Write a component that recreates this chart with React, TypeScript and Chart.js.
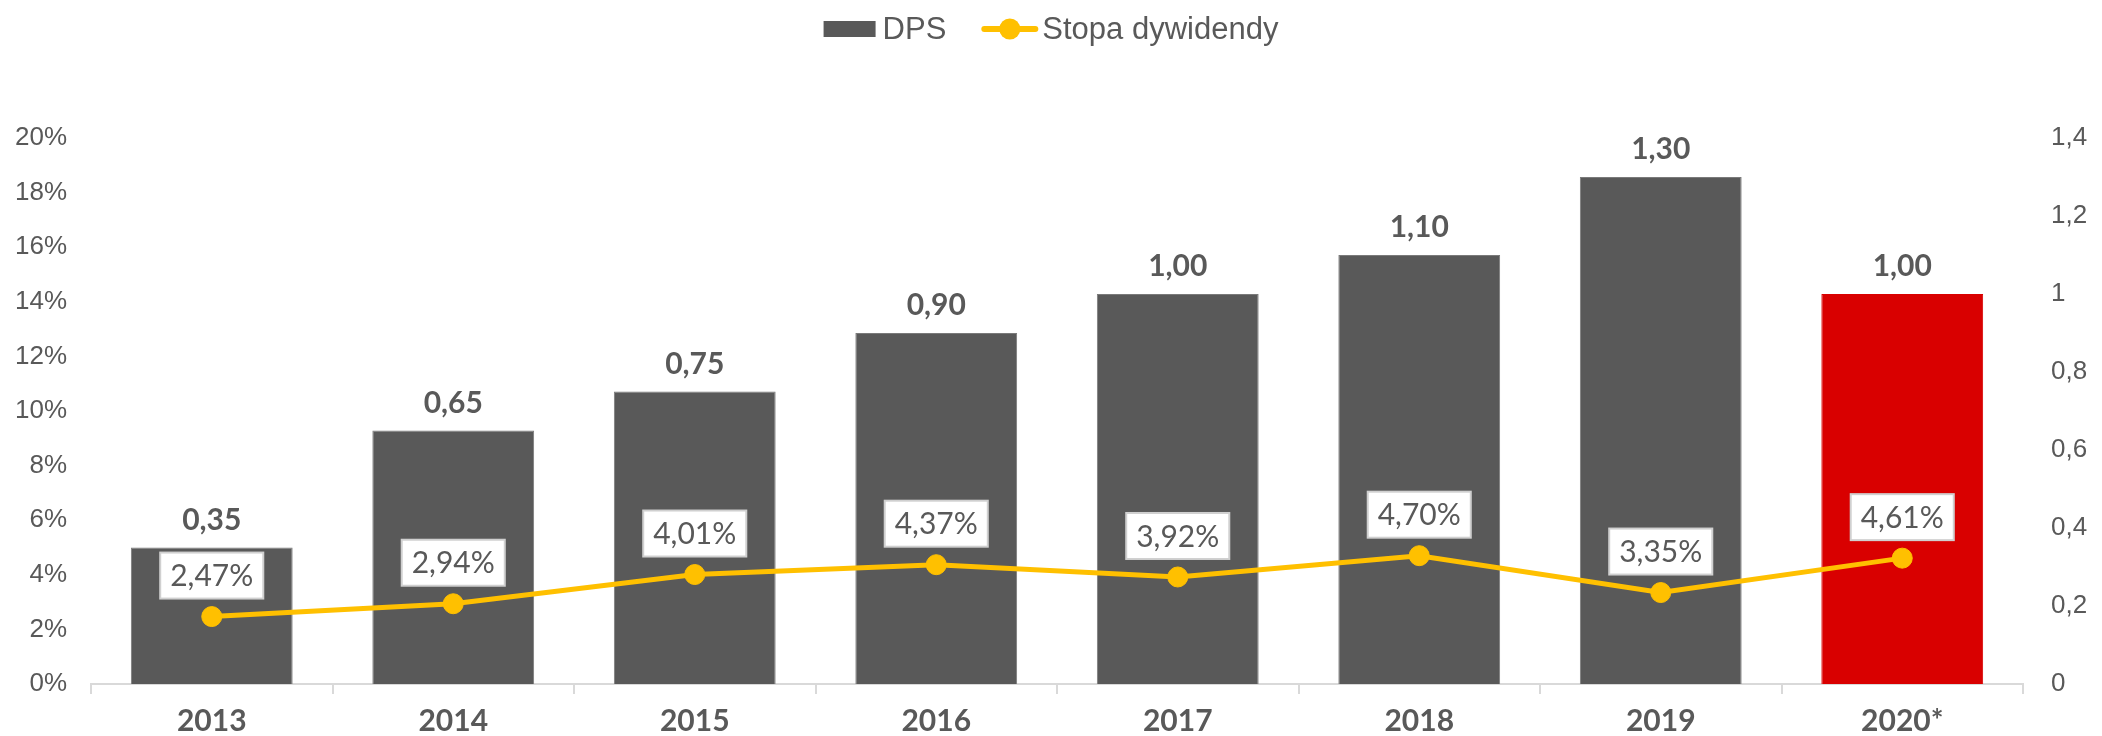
import React, { useEffect, useRef } from "react";
import { Chart, registerables } from "chart.js";

Chart.register(...registerables);

const categories = ["2013", "2014", "2015", "2016", "2017", "2018", "2019", "2020*"];
const dpsValues = [0.35, 0.65, 0.75, 0.9, 1.0, 1.1, 1.3, 1.0];
const yieldValues = [0.0247, 0.0294, 0.0401, 0.0437, 0.0392, 0.047, 0.0335, 0.0461];
const highlightCategory = "2020*";
const leftTicksMax = 0.2;
const rightTicksMax = 1.4;

const GRAY = "#595959";
const RED = "#D90000";
const YELLOW = "#FFC000";
const TEXT = "#595959";

const fmtComma = (v: number, d: number) => v.toFixed(d).replace(".", ",");

const labelsPlugin = {
  id: "customLabels",
  afterDatasetsDraw(chart: any) {
    const ctx = chart.ctx;
    ctx.save();
    const barMeta = chart.getDatasetMeta(1);
    ctx.font = "bold 30px Lato";
    ctx.fillStyle = TEXT;
    ctx.textAlign = "center";
    ctx.textBaseline = "alphabetic";
    barMeta.data.forEach((bar: any, i: number) => {
      ctx.fillText(fmtComma(dpsValues[i], 2), bar.x, bar.y - 18);
    });
    const lineMeta = chart.getDatasetMeta(0);
    ctx.font = "30px Lato";
    ctx.textBaseline = "middle";
    lineMeta.data.forEach((pt: any, i: number) => {
      const txt = fmtComma(yieldValues[i] * 100, 2) + "%";
      const w = ctx.measureText(txt).width + 20;
      const h = 46;
      const cy = pt.y - 41;
      ctx.fillStyle = "#ffffff";
      ctx.fillRect(pt.x - w / 2, cy - h / 2, w, h);
      ctx.strokeStyle = "#d0d0d0";
      ctx.lineWidth = 2;
      ctx.strokeRect(pt.x - w / 2, cy - h / 2, w, h);
      ctx.fillStyle = TEXT;
      ctx.fillText(txt, pt.x, cy + 1);
    });
    ctx.restore();
  },
  afterDraw(chart: any) {
    const ctx = chart.ctx;
    ctx.save();
    ctx.font = "31px 'Liberation Sans', Arial";
    const t1 = chart.data.datasets[1].label;
    const t2 = chart.data.datasets[0].label;
    const w1 = ctx.measureText(t1).width;
    const w2 = ctx.measureText(t2).width;
    const total = 52 + 7 + w1 + 35 + 57 + 4 + w2;
    let x = chart.width / 2 - total / 2;
    const cy = 29;
    ctx.fillStyle = GRAY;
    ctx.fillRect(x, cy - 8, 52, 16);
    x += 59;
    ctx.fillStyle = TEXT;
    ctx.textAlign = "left";
    ctx.textBaseline = "middle";
    ctx.fillText(t1, x, cy + 1);
    x += w1 + 35;
    ctx.strokeStyle = YELLOW;
    ctx.lineWidth = 6;
    ctx.lineCap = "round";
    ctx.beginPath();
    ctx.moveTo(x + 3, cy);
    ctx.lineTo(x + 54, cy);
    ctx.stroke();
    ctx.fillStyle = YELLOW;
    ctx.beginPath();
    ctx.arc(x + 28.5, cy, 10.5, 0, Math.PI * 2);
    ctx.fill();
    x += 61;
    ctx.fillStyle = TEXT;
    ctx.fillText(t2, x, cy + 1);
    ctx.restore();
  },
};

export default function App() {
  const ref = useRef<HTMLCanvasElement | null>(null);
  useEffect(() => {
    if (!ref.current) return;
    const chart = new Chart(ref.current, {
      type: "bar",
      data: {
        labels: categories,
        datasets: [
          {
            type: "line",
            label: "Stopa dywidendy",
            data: yieldValues,
            yAxisID: "y",
            borderColor: YELLOW,
            backgroundColor: YELLOW,
            borderWidth: 5,
            pointRadius: 10,
            pointHoverRadius: 10,
            pointBackgroundColor: YELLOW,
            pointBorderColor: YELLOW,
            pointBorderWidth: 1,
            tension: 0,
            order: 0,
          } as any,
          {
            type: "bar",
            label: "DPS",
            data: dpsValues,
            yAxisID: "y1",
            backgroundColor: (c: any) => (categories[c.dataIndex] === highlightCategory ? RED : GRAY),
            borderColor: (c: any) => (categories[c.dataIndex] === highlightCategory ? RED : "#7a7a7a"),
            borderWidth: 1,
            categoryPercentage: 1,
            barPercentage: 0.67,
            order: 1,
          } as any,
        ],
      },
      options: {
        responsive: false,
        animation: false,
        layout: { padding: { top: 138, left: 0, right: 0, bottom: 0 } },
        plugins: {
          legend: { display: false },
          tooltip: { enabled: false },
        },
        scales: {
          x: {
            grid: {
              display: true,
              offset: true,
              drawOnChartArea: false,
              drawTicks: true,
              tickLength: 10,
              color: "#d9d9d9",
              lineWidth: 2,
            },
            border: { display: true, color: "#d9d9d9", width: 2 },
            ticks: {
              color: TEXT,
              font: { family: "Lato", size: 30, weight: "bold" },
              padding: 9,
              maxRotation: 0,
            },
            afterFit: (s: any) => {
              s.height = 52;
            },
          },
          y: {
            position: "left",
            min: 0,
            max: leftTicksMax,
            grid: { display: false, drawTicks: false },
            border: { display: false },
            ticks: {
              stepSize: 0.02,
              color: TEXT,
              font: { family: "'Liberation Sans', Arial", size: 26 },
              padding: 24,
              callback: (v: any) => Math.round(Number(v) * 100) + "%",
            },
            afterFit: (s: any) => {
              s.width = 91;
            },
          },
          y1: {
            position: "right",
            min: 0,
            max: rightTicksMax,
            grid: { display: false, drawTicks: false },
            border: { display: false },
            ticks: {
              stepSize: 0.2,
              color: TEXT,
              font: { family: "'Liberation Sans', Arial", size: 26 },
              padding: 28,
              callback: (v: any) => String(Math.round(Number(v) * 10) / 10).replace(".", ","),
            },
            afterFit: (s: any) => {
              s.width = 79;
            },
          },
        },
      },
      plugins: [labelsPlugin],
    });
    return () => chart.destroy();
  }, []);
  return (
    <div style={{ position: "fixed", left: 0, top: 0, width: 2102, height: 736, background: "#fff" }}>
      <canvas ref={ref} width={2102} height={736} style={{ display: "block" }} />
    </div>
  );
}
